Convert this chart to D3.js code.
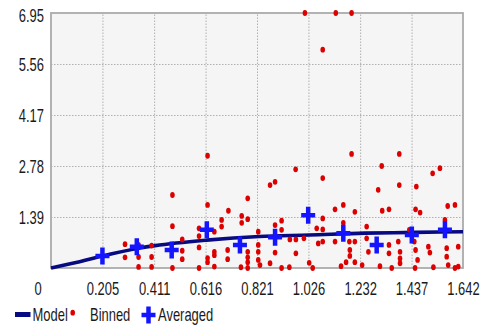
<!DOCTYPE html>
<html>
<head>
<meta charset="utf-8">
<script src="https://cdn.jsdelivr.net/npm/d3@7"></script>
<style>
  html, body { margin: 0; padding: 0; background: #ffffff; }
  svg text { font-family: "Liberation Sans", Arial, sans-serif; fill: #1a1a1a; }
</style>
</head>
<body>
<svg id="chart" width="480" height="330"></svg>
<script>
// ---- data ----
const xTickValues = [0, 0.205, 0.411, 0.616, 0.821, 1.026, 1.232, 1.437, 1.642];
const xTickLabels = ["0", "0.205", "0.411", "0.616", "0.821", "1.026", "1.232", "1.437", "1.642"];
const yTickValues = [1.39, 2.78, 4.17, 5.56, 6.95];
const yTickLabels = ["1.39", "2.78", "4.17", "5.56", "6.95"];

// Model curve
const modelX = [0, 0.10, 0.205, 0.35, 0.415, 0.62, 0.83, 1.03, 1.25, 1.45, 1.642];
const modelY = [0, 0.15, 0.33, 0.54, 0.61, 0.76, 0.86, 0.90, 0.95, 0.97, 0.99];

// Averaged points
const avgX = [0.205, 0.342, 0.481, 0.621, 0.753, 0.893, 1.025, 1.165, 1.298, 1.438, 1.570];
const avgY = [0.33, 0.58, 0.49, 1.04, 0.63, 0.84, 1.44, 0.95, 0.63, 0.90, 1.04];

// Binned points
const binX = [0.295,0.295,0.349,0.349,0.349,0.401,0.401,0.401,0.484,0.484,0.484,
  0.523,0.523,0.523,0.590,0.590,0.590,0.590,0.624,0.624,0.624,0.624,
  0.651,0.651,0.651,0.651,0.680,0.680,0.707,0.704,0.704,0.760,0.760,0.757,
  0.784,0.784,0.784,0.784,0.784,0.784,0.826,0.826,0.826,0.826,
  0.873,0.893,0.975,0.893,0.919,0.919,0.893,0.873,0.919,0.952,0.976,0.976,0.950,
  1.008,1.029,1.043,1.059,1.083,1.083,1.083,1.065,1.083,1.012,1.135,1.198,1.083,
  1.198,1.388,1.318,1.521,1.550,1.304,1.388,1.456,1.132,1.165,1.165,1.211,
  1.132,1.189,1.211,1.191,1.191,1.176,1.211,1.320,1.347,1.453,1.471,1.581,1.610,1.570,
  1.258,1.258,1.265,1.347,1.347,1.384,1.391,1.391,1.391,1.311,1.358,
  1.448,1.453,1.461,1.451,1.504,1.510,1.524,1.577,1.577,1.583,1.610,1.623,1.623,
  1.428,1.156,1.240,0.833];
const binY = [0.65,0.29,0.30,0.03,0.63,0.61,0.30,0.03,1.99,1.14,0.0,
  0.78,0.47,0.24,1.08,0.87,0.56,0.0,3.06,1.72,0.27,0.16,
  0.99,0.44,0.35,0.04,1.31,1.13,1.56,0.49,0.24,1.42,1.23,0.02,
  1.90,1.33,0.44,0.29,0.16,0.0,0.99,0.63,0.44,0.22,
  2.26,2.35,2.69,1.17,1.29,1.04,0.42,0.13,0.0,0.78,0.78,0.40,0.02,
  0.81,0.14,0.0,1.08,1.35,1.05,0.72,0.67,2.45,6.95,6.95,6.95,5.95,
  3.11,3.11,2.78,2.58,2.72,2.13,2.26,2.22,1.60,1.72,1.23,1.53,
  0.72,0.72,0.72,0.49,0.33,0.16,0.16,1.56,1.60,1.60,1.51,1.69,1.72,1.31,
  1.13,0.81,0.44,0.63,0.40,0.72,0.44,0.26,0.13,0.05,0.0,
  0.72,0.49,0.22,0.0,0.58,0.42,0.02,0.54,0.31,0.08,0.0,0.58,0.04,
  1.04,0.05,0.08,0.08];

// ---- layout ----
const svg = d3.select("#chart");
const pLeft = 51, pRight = 463, pTop = 13, pBottom = 268;
const W = pRight - pLeft, H = pBottom - pTop;
const x = d3.scaleLinear().domain([0, 1.642]).range([pLeft, pRight]);
const y = d3.scaleLinear().domain([0, 6.95]).range([pBottom, pTop]);
const SX = 0.72, FS = 18;

// plot background
svg.append("rect").attr("x", pLeft).attr("y", pTop).attr("width", W).attr("height", H)
  .attr("fill", "#f5f5f5");

// grid
const gx = svg.append("g").attr("transform", `translate(0,${pBottom})`)
  .call(d3.axisBottom(x).tickValues(xTickValues.slice(1, -1)).tickSize(-H).tickFormat(""));
const gy = svg.append("g").attr("transform", `translate(${pLeft},0)`)
  .call(d3.axisLeft(y).tickValues(yTickValues.slice(0, -1)).tickSize(-W).tickFormat(""));
[gx, gy].forEach(g => {
  g.select(".domain").remove();
  g.selectAll("line").attr("stroke", "#b0b0b0").attr("stroke-width", 1).attr("stroke-dasharray", "1.5,1.5");
});

// frame
svg.append("rect").attr("x", pLeft).attr("y", pTop).attr("width", W).attr("height", H)
  .attr("fill", "none").attr("stroke", "#ababab").attr("stroke-width", 1.8);

// x axis labels
const xa = svg.append("g").attr("transform", `translate(0,${pBottom})`)
  .call(d3.axisBottom(x).tickValues(xTickValues).tickSize(0).tickPadding(0)
    .tickFormat((d, i) => xTickLabels[i]));
xa.select(".domain").remove();
xa.selectAll("text")
  .attr("y", null).attr("dy", null)
  .attr("font-size", FS)
  .attr("transform", (d, i) => `translate(${i === 0 ? -13.5 : 0},26.5) scale(${SX},1)`);

// y axis labels
const ya = svg.append("g").attr("transform", `translate(${pLeft},0)`)
  .call(d3.axisLeft(y).tickValues(yTickValues).tickSize(0).tickPadding(0)
    .tickFormat((d, i) => yTickLabels[i]));
ya.select(".domain").remove();
ya.selectAll("text")
  .attr("x", null).attr("dy", null)
  .attr("font-size", FS)
  .attr("transform", (d, i) => `translate(-7,${i === yTickLabels.length - 1 ? 8.5 : 6.5}) scale(${SX},1)`);

// model line
const modelData = modelX.map((v, i) => [v, modelY[i]]);
svg.append("path").datum(modelData)
  .attr("d", d3.line().x(d => x(d[0])).y(d => y(d[1])).curve(d3.curveMonotoneX))
  .attr("fill", "none").attr("stroke", "#080a82").attr("stroke-width", 3.6);

// binned dots
const binData = binX.map((v, i) => [v, binY[i]]);
svg.append("g").selectAll("ellipse").data(binData).join("ellipse")
  .attr("cx", d => x(d[0])).attr("cy", d => y(d[1]))
  .attr("rx", 2.3).attr("ry", 2.9).attr("fill", "#dc0000");

// averaged crosses
const crossPath = (cx, cy) => `M${cx - 7},${cy}H${cx + 7}M${cx},${cy - 8.5}V${cy + 8.5}`;
const avgData = avgX.map((v, i) => [v, avgY[i]]);
svg.append("g").selectAll("path").data(avgData).join("path")
  .attr("d", d => crossPath(x(d[0]), y(d[1])))
  .attr("stroke", "#1414ff").attr("stroke-width", 4.5).attr("fill", "none");

// legend
const lg = svg.append("g");
const ly = 314.5;
lg.append("line").attr("x1", 15).attr("x2", 30.5).attr("y1", ly).attr("y2", ly)
  .attr("stroke", "#080a82").attr("stroke-width", 5);
lg.append("text").attr("transform", `translate(32.5,${ly + 6.5}) scale(${SX},1)`)
  .attr("font-size", FS).text("Model");
lg.append("ellipse").attr("cx", 72.7).attr("cy", 312.7).attr("rx", 2.3).attr("ry", 2.9).attr("fill", "#dc0000");
lg.append("text").attr("transform", `translate(90,${ly + 6.5}) scale(${SX},1)`)
  .attr("font-size", FS).text("Binned");
lg.append("path").attr("d", crossPath(148.5, 315))
  .attr("stroke", "#1414ff").attr("stroke-width", 4.5).attr("fill", "none");
lg.append("text").attr("transform", `translate(158,${ly + 6.5}) scale(${SX},1)`)
  .attr("font-size", FS).text("Averaged");
</script>
</body>
</html>
